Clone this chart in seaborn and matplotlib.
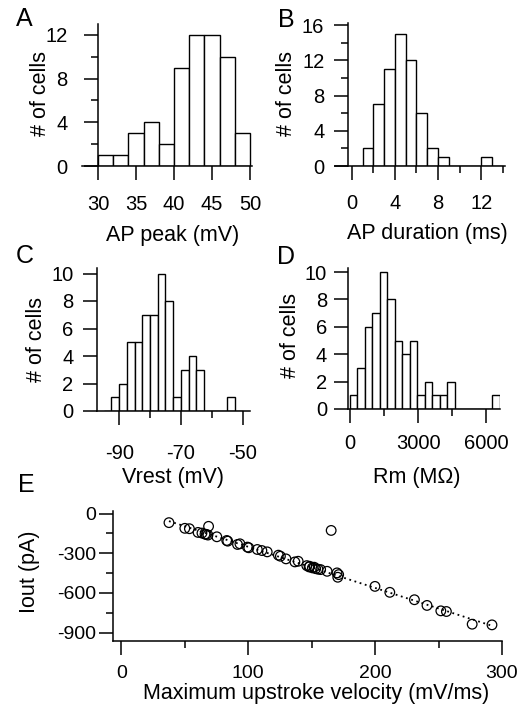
import numpy as np
import pandas as pd
import matplotlib
matplotlib.use("Agg")
import matplotlib.pyplot as plt
import seaborn as sns

sns.set_theme(style="ticks")
plt.rcParams['font.family'] = ['Liberation Sans', 'DejaVu Sans']
plt.rcParams['axes.unicode_minus'] = False
for key in ('text.color', 'axes.labelcolor', 'xtick.color', 'ytick.color', 'axes.edgecolor'):
    plt.rcParams[key] = 'black'

# histogram bins and counts
peak_edges = [30, 32, 34, 36, 38, 40, 42, 44, 46, 48, 50]
peak_counts = [1, 1, 3, 4, 2, 9, 12, 12, 10, 3]

dur_edges = [0, 1, 2, 3, 4, 5, 6, 7, 8, 9, 10, 11, 12, 13, 14]
dur_counts = [0, 2, 7, 11, 15, 12, 6, 2, 1, 0, 0, 0, 1, 0]

vrest_edges = [-95, -92.5, -90, -87.5, -85, -82.5, -80, -77.5, -75, -72.5, -70,
               -67.5, -65, -62.5, -60, -57.5, -55, -52.5, -50]
vrest_counts = [0, 1, 2, 5, 5, 7, 7, 10, 8, 1, 3, 4, 3, 0, 0, 0, 1, 0]

rm_edges = [0, 330, 660, 990, 1320, 1650, 1980, 2310, 2640, 2970, 3300, 3630,
            3960, 4290, 4620, 4950, 5280, 5610, 5940, 6270, 6600]
rm_counts = [1, 3, 6, 7, 10, 8, 5, 4, 5, 1, 2, 1, 1, 2, 0, 0, 0, 0, 0, 1]

# scatter: max upstroke velocity vs Iout
velocity = [37.6, 50.1, 53.7, 60.5, 63.6, 66.0, 67.0, 68.8, 68.3, 75.3, 83.1, 83.9,
            91.6, 93.5, 99.4, 100.5, 107.2, 110.8, 115.0, 123.8, 125.4, 129.8,
            136.8, 139.4, 146.2, 148.0, 148.5, 150.6, 152.0, 153.2, 155.0, 157.1,
            162.2, 165.4, 170.0, 170.6, 171.3, 199.9, 211.6, 231.0, 240.9, 251.8,
            256.2, 276.5, 292.1]
iout = [-68, -111, -114, -142, -147, -155, -157, -96, -162, -175, -203, -208,
        -233, -228, -253, -258, -271, -279, -289, -314, -322, -342,
        -365, -360, -393, -403, -398, -410, -405, -416, -420, -423,
        -436, -127, -448, -481, -461, -550, -595, -651, -694, -735,
        -740, -836, -841]

W, H = 531, 717
fig = plt.figure(figsize=(W / 100, H / 100), dpi=100)

LW = 1.1
FS = 14.5
LFS = 15.5


def px_axes(l, t, r, b):
    return fig.add_axes([l / W, 1 - b / H, (r - l) / W, (b - t) / H])


def style(ax, xmaj, xmin, ymaj, ymin, xpad, ypad, fs=FS):
    sns.despine(ax=ax)
    for s in ('left', 'bottom'):
        ax.spines[s].set_linewidth(LW)
        ax.spines[s].set_color('black')
    ax.set_xticks(xmaj)
    ax.set_xticks(xmin, minor=True)
    ax.set_yticks(ymaj)
    ax.set_yticks(ymin, minor=True)
    ax.tick_params(which='major', length=10, width=LW, color='black', labelsize=fs)
    ax.tick_params(which='minor', length=5, width=LW, color='black')
    ax.tick_params(axis='x', which='major', pad=xpad)
    ax.tick_params(axis='y', which='major', pad=ypad)


def labels(ax, xl, xpos, yl, ypos):
    ax.set_xlabel(xl, fontsize=LFS, va='center')
    ax.set_ylabel(yl, fontsize=LFS, va='center')
    ax.xaxis.set_label_coords(xpos[0] / W, 1 - xpos[1] / H, transform=fig.transFigure)
    ax.yaxis.set_label_coords(ypos[0] / W, 1 - ypos[1] / H, transform=fig.transFigure)


def hist(ax, edges, counts):
    e = np.asarray(edges, dtype=float)
    df = pd.DataFrame({'x': (e[:-1] + e[1:]) / 2, 'n': counts})
    sns.histplot(data=df, x='x', weights='n', bins=list(e), ax=ax, color='white',
                 edgecolor='black', linewidth=1.0, alpha=1)


# A
ax = px_axes(82, 24, 252, 166)
hist(ax, peak_edges, peak_counts)
ax.set_xlim(27.9, 50.26)
ax.set_ylim(0, 13)
ax.spines['left'].set_position(('data', 30))
style(ax, [30, 35, 40, 45, 50], [], [0, 4, 8, 12], [2, 6, 10], 11, 12)
labels(ax, 'AP peak (mV)', (173, 236), '# of cells', (40, 93))

# B
ax = px_axes(335, 23, 505, 166)
hist(ax, dur_edges, dur_counts)
ax.set_xlim(-1.55, 14.2)
ax.set_ylim(0, 16.25)
ax.spines['left'].set_position(('data', -0.35))
style(ax, [0, 4, 8, 12], [2, 6, 10, 14], [0, 4, 8, 12, 16], [2, 6, 10, 14], 10, 7)
labels(ax, 'AP duration (ms)', (427, 233), '# of cells', (287, 93))

# C
ax = px_axes(97, 268, 250, 411)
hist(ax, vrest_edges, vrest_counts)
ax.set_xlim(-97.2, -47.6)
ax.set_ylim(0, 10.4)
style(ax, [-90, -70, -50], [-80, -60], [0, 2, 4, 6, 8, 10], [], 14, 7)
labels(ax, 'Vrest (mV)', (173, 478), '# of cells', (36, 339))

# D
ax = px_axes(348, 268, 500, 409)
hist(ax, rm_edges, rm_counts)
ax.set_xlim(-87, 6600)
ax.set_ylim(0, 10.3)
style(ax, [0, 3000, 6000], [1500, 4500], [0, 2, 4, 6, 8, 10], [], 8, 5)
labels(ax, 'Rm (M\u03a9)', (417, 478), '# of cells', (290, 335))

# E
ax = px_axes(113, 511, 502, 641)
vel = np.asarray(velocity)
cur = np.asarray(iout)
keep = cur < -2.2 * vel + 100  # leave the two clear outliers out of the fit
slope, icpt = np.polyfit(vel[keep], cur[keep], 1)
fit_x = np.array([vel.min(), vel.max()])
sns.lineplot(x=fit_x, y=slope * fit_x + icpt, ax=ax, color='black',
             linestyle=(0, (1, 2)), linewidth=1.3)
sns.scatterplot(x=velocity, y=iout, ax=ax, marker='o', s=48,
                facecolors='none', edgecolor='black', linewidth=0.9)
ax.set_xlim(-6.5, 300)
ax.set_ylim(-963, 20)
style(ax, [0, 100, 200, 300], [50, 150, 250], [0, -300, -600, -900],
      [-150, -450, -750], 7, 2, fs=14)
labels(ax, 'Maximum upstroke velocity (mV/ms)', (316, 694), 'Iout (pA)', (30, 572))

# panel letters
for letter, (x, y) in zip('ABCDE', [(24, 19), (286, 20), (25, 256), (286, 257), (26, 485)]):
    fig.text(x / W, 1 - y / H, letter, fontsize=18, ha='center', va='center')

fig.savefig('out.png', dpi=100)
